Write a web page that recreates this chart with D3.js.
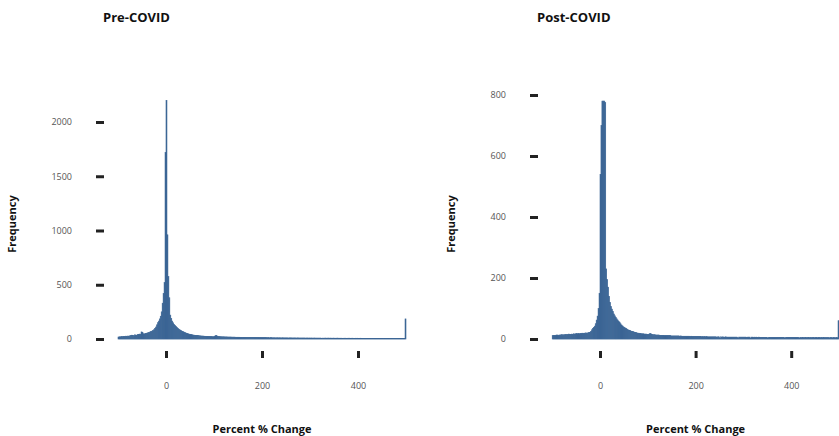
<!DOCTYPE html>
<html lang="en">
  <head>
    <meta charset="UTF-8">
    <title>Percent Change Histograms</title>
    <style>
      body { margin: 0; background: #fff; }
      text { font-family: "Open Sans", sans-serif; }
    </style>
  </head>
  <body>
    <div id="chart-container"></div>
    <script src="https://d3js.org/d3.v7.min.js"></script>
    <script>
      // histogram bins: start at -100, width 2 (last bin holds everything >= 498)
      const binStart = -100;
      const binWidth = 2;

      const preCounts = [
        18,20,19,22,21,23,22,24,26,25,
        27,26,29,31,35,33,30,38,36,34,
        40,42,45,44,65,62,48,46,50,52,
        55,58,60,64,68,72,78,85,95,110,
        130,150,165,185,210,250,330,420,520,1720,
        2200,960,575,380,220,190,165,150,135,125,
        115,105,98,90,84,78,72,68,64,60,
        56,52,49,46,44,42,40,38,36,35,
        34,33,32,31,30,29,28,27,27,26,
        25,25,24,24,23,23,22,22,21,21,
        24,30,32,26,22,22,21,21,20,20,
        20,19,19,19,18,18,18,18,17,17,
        17,17,16,16,16,16,16,15,15,15,
        15,15,15,14,14,14,14,14,14,13,
        14,13,13,13,13,13,13,12,13,12,
        12,12,12,12,12,11,12,11,11,12,
        11,11,11,11,10,11,11,10,11,10,
        10,11,10,10,10,10,10,9,10,10,
        10,9,10,9,10,9,9,10,9,9,
        9,9,9,9,9,8,9,9,8,9,
        8,9,8,8,9,8,8,8,8,8,
        8,8,4,8,7,8,8,7,8,8,
        7,8,7,7,8,7,7,7,8,7,
        7,7,7,7,6,7,7,7,3,7,
        7,7,6,7,7,3,6,7,6,7,
        6,6,7,6,6,6,6,6,6,6,
        6,6,6,6,3,6,6,6,6,6,
        6,6,5,6,6,5,3,6,5,6,
        5,6,5,5,5,6,5,5,5,5,
        5,5,5,5,5,5,5,5,5,185
      ];

      const postCounts = [
        11,12,12,12,13,13,12,13,13,14,
        14,13,14,14,15,14,15,16,15,15,
        16,15,17,16,17,18,17,18,17,18,
        18,19,18,19,19,20,19,20,21,22,
        24,30,34,38,42,50,62,75,100,150,
        540,700,780,780,780,775,230,195,170,140,
        120,106,98,90,82,76,70,66,62,58,
        55,50,46,43,40,38,36,34,32,30,
        29,28,26,25,24,23,22,21,20,19,
        19,18,18,17,17,17,16,16,16,15,
        15,16,18,17,15,14,14,14,13,13,
        13,13,12,12,12,12,12,11,11,11,
        11,11,11,11,10,10,10,10,10,10,
        10,10,10,9,10,9,9,9,9,9,
        9,9,9,9,8,9,8,8,8,8,
        8,8,8,8,8,8,7,8,7,8,
        7,8,7,7,7,7,7,7,7,7,
        7,7,6,7,7,3,7,6,7,6,
        6,7,6,6,6,6,6,6,6,6,
        6,6,6,6,3,6,6,6,6,6,
        6,6,6,5,6,6,6,3,6,6,
        5,6,5,6,5,5,6,5,5,5,
        5,5,5,5,5,3,5,5,5,5,
        5,5,5,5,5,5,5,5,5,5,
        5,5,5,3,5,5,5,5,5,5,
        5,5,5,5,5,5,5,5,3,5,
        4,5,5,4,5,5,4,5,5,4,
        5,4,5,5,4,5,5,4,5,5,
        4,5,4,5,5,4,5,4,5,4,
        4,5,4,4,5,4,4,5,4,60
      ];

      const xTicks = [0, 200, 400];
      const preYTicks = [0, 500, 1000, 1500, 2000];
      const postYTicks = [0, 200, 400, 600, 800];

      const barColor = "#3a6494";

      const svg = d3.select("#chart-container")
        .append("svg")
        .attr("width", 839)
        .attr("height", 436);

      function drawPanel(p) {
        const g = svg.append("g");

        const x = d3.scaleLinear().domain([-100, 500]).range(p.xRange);
        const y = d3.scaleLinear().domain([0, p.yTicks[p.yTicks.length - 1]]).range(p.yRange);

        const bins = p.counts.map((c, i) => ({
          x0: binStart + i * binWidth,
          x1: binStart + (i + 1) * binWidth,
          n: c
        }));

        // bars
        g.append("g")
          .selectAll("rect")
          .data(bins)
          .enter()
          .append("rect")
          .attr("x", d => x(d.x0))
          .attr("width", d => x(d.x1) - x(d.x0))
          .attr("y", d => y(d.n))
          .attr("height", d => y(0) - y(d.n))
          .attr("fill", barColor)
          .attr("stroke", barColor)
          .attr("stroke-width", 0.6);

        // y axis (detached dashes)
        const yAxis = g.append("g")
          .attr("transform", "translate(" + p.yAxisX + ",0)")
          .call(d3.axisLeft(y).tickValues(p.yTicks).tickFormat(d3.format("d")).tickSize(8).tickPadding(24));
        yAxis.select(".domain").remove();
        yAxis.selectAll("line").attr("stroke", "#222").attr("stroke-width", 3);
        yAxis.selectAll("text").attr("fill", "#555").style("font-size", "9px");

        // x axis
        const xAxis = g.append("g")
          .attr("transform", "translate(0," + p.xAxisY + ")")
          .call(d3.axisBottom(x).tickValues(xTicks).tickFormat(d3.format("d")).tickSize(7).tickPadding(25));
        xAxis.select(".domain").remove();
        xAxis.selectAll("line").attr("stroke", "#222").attr("stroke-width", 3);
        xAxis.selectAll("text").attr("fill", "#555").style("font-size", "9px");

        // title
        g.append("text")
          .attr("x", p.titleX)
          .attr("y", 22)
          .style("font-size", "13px")
          .style("font-weight", "bold")
          .attr("fill", "#111")
          .text(p.title);

        // x label
        g.append("text")
          .attr("x", x(200))
          .attr("y", 433)
          .attr("text-anchor", "middle")
          .style("font-size", "11px")
          .style("font-weight", "bold")
          .attr("fill", "#111")
          .text("Percent % Change");

        // y label
        g.append("text")
          .attr("transform", "translate(" + p.yLabelX + ",224) rotate(-90)")
          .attr("text-anchor", "middle")
          .style("font-size", "11px")
          .style("font-weight", "bold")
          .attr("fill", "#111")
          .text("Frequency");
      }

      drawPanel({
        title: "Pre-COVID", titleX: 103,
        counts: preCounts, yTicks: preYTicks,
        xRange: [118, 406], yRange: [339, 122],
        yAxisX: 104, xAxisY: 351, yLabelX: 16
      });

      drawPanel({
        title: "Post-COVID", titleX: 537,
        counts: postCounts, yTicks: postYTicks,
        xRange: [552.2, 839], yRange: [339, 95],
        yAxisX: 538, xAxisY: 351, yLabelX: 455
      });
    </script>
  </body>
</html>
